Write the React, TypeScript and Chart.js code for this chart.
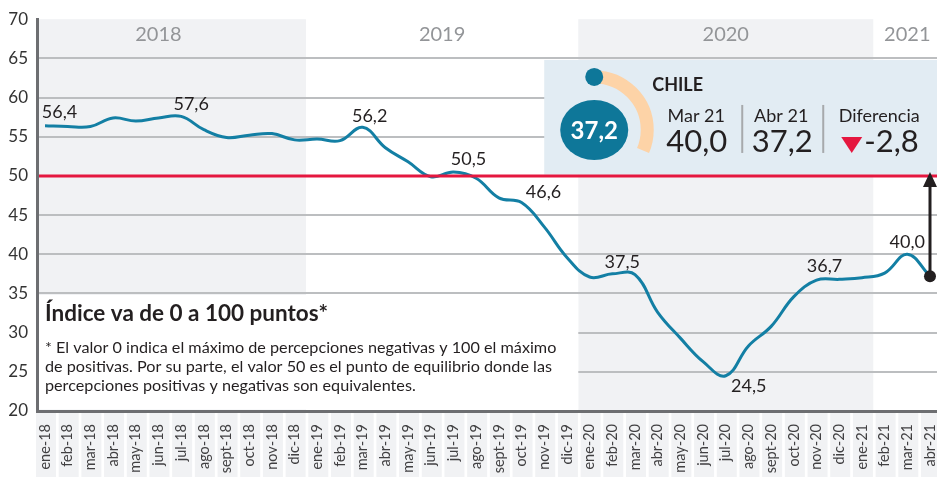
import React, { useEffect, useRef } from 'react';
import { Chart, registerables } from 'chart.js';
Chart.register(...registerables);

const months = [
  'ene-18','feb-18','mar-18','abr-18','may-18','jun-18','jul-18','ago-18','sept-18','oct-18','nov-18','dic-18',
  'ene-19','feb-19','mar-19','abr-19','may-19','jun-19','jul-19','ago-19','sept-19','oct-19','nov-19','dic-19',
  'ene-20','feb-20','mar-20','abr-20','may-20','jun-20','jul-20','ago-20','sept-20','oct-20','nov-20','dic-20',
  'ene-21','feb-21','mar-21','abr-21'
];
const values = [
  56.4, 56.3, 56.3, 57.4, 57.0, 57.4, 57.6, 55.9, 54.9, 55.2, 55.4, 54.6,
  54.7, 54.5, 56.2, 53.6, 51.8, 49.9, 50.5, 49.7, 47.2, 46.6, 43.5, 39.6,
  37.1, 37.5, 37.4, 32.6, 29.3, 26.3, 24.5, 28.3, 30.8, 34.6, 36.7, 36.8,
  37.0, 37.6, 40.0, 37.2
];
const yTicks = [20, 25, 30, 35, 40, 45, 50, 55, 60, 65, 70];
const years = ['2018', '2019', '2020', '2021'];
const yearCenters = [5, 17.5, 30, 38];
const grayBands = [[-1, 11.5], [23.5, 36.5]];
const labeledIdx = [0, 6, 14, 18, 21, 25, 30, 34, 38];
const labelOffsets = [[14.5, -14], [10, -12], [7, -11], [15, -13], [22, -10], [10, -12], [23, 10], [8, -14], [0, -12]];
const referenceValue = 50;
const country = 'CHILE';
const prevLabel = 'Mar 21';
const currLabel = 'Abr 21';
const prevValue = 40.0;
const currValue = 37.2;
const diffLabel = 'Diferencia';
const noteTitle = 'Índice va de 0 a 100 puntos*';
const noteLines = [
  '* El valor 0 indica el máximo de percepciones negativas y 100 el máximo',
  'de positivas. Por su parte, el valor 50 es el punto de equilibrio donde las',
  'percepciones positivas y negativas son equivalentes.'
];

const fmt = (v: number) => v.toFixed(1).replace('.', ',');
const FONT = 'Lato';
const TEAL = '#137fa4';
const DARK = '#231f20';
const RED = '#e5173f';

const decor = {
  id: 'decor',
  beforeDraw(chart: any) {
    const { ctx, chartArea } = chart;
    const xs = chart.scales.x;
    const { left, right, top, bottom } = chartArea;
    ctx.save();
    ctx.fillStyle = '#f1f2f4';
    grayBands.forEach(([a, b]) => {
      const x0 = Math.max(left, xs.getPixelForValue(a));
      const x1 = Math.min(right, xs.getPixelForValue(b));
      ctx.fillRect(x0, top, x1 - x0, bottom - top);
    });
    months.forEach((_, i) => {
      const px = xs.getPixelForValue(i) + 1;
      ctx.fillRect(px - 10, bottom + 2, 20, chart.height - bottom - 3);
    });
    ctx.restore();
  },
  beforeDatasetsDraw(chart: any) {
    const { ctx, chartArea } = chart;
    const xs = chart.scales.x;
    const ys = chart.scales.y;
    const { left, right, bottom } = chartArea;
    ctx.save();
    ctx.fillStyle = '#ffffff';
    const ny0 = ys.getPixelForValue(35) + 1.5;
    const nx1 = xs.getPixelForValue(23.5);
    ctx.fillRect(left + 2, ny0, nx1 - left - 2, bottom - 1.5 - ny0);
    ctx.fillStyle = '#e2ecf3';
    const bx = xs.getPixelForValue(22);
    const by0 = ys.getPixelForValue(64.8);
    const by1 = ys.getPixelForValue(50.15);
    ctx.fillRect(bx, by0, right - bx, by1 - by0);
    ctx.restore();
  },
  afterDatasetsDraw(chart: any) {
    const { ctx, chartArea } = chart;
    const xs = chart.scales.x;
    const ys = chart.scales.y;
    const { left, right } = chartArea;
    ctx.save();
    const ry = ys.getPixelForValue(referenceValue);
    ctx.strokeStyle = RED;
    ctx.lineWidth = 3;
    ctx.beginPath();
    ctx.moveTo(left + 2, ry);
    ctx.lineTo(right, ry);
    ctx.stroke();

    const last = values.length - 1;
    const ax = xs.getPixelForValue(last);
    const ay = ys.getPixelForValue(values[last]);
    ctx.strokeStyle = DARK;
    ctx.fillStyle = DARK;
    ctx.lineWidth = 3;
    ctx.beginPath();
    ctx.moveTo(ax, ay);
    ctx.lineTo(ax, ry + 10);
    ctx.stroke();
    ctx.beginPath();
    ctx.moveTo(ax, ry - 4);
    ctx.lineTo(ax - 7, ry + 11);
    ctx.lineTo(ax + 7, ry + 11);
    ctx.closePath();
    ctx.fill();
    ctx.beginPath();
    ctx.arc(ax, ay, 6, 0, Math.PI * 2);
    ctx.fill();

    ctx.fillStyle = DARK;
    ctx.font = `18px ${FONT}`;
    ctx.textAlign = 'center';
    ctx.textBaseline = 'middle';
    labeledIdx.forEach((idx, k) => {
      const px = xs.getPixelForValue(idx) + labelOffsets[k][0];
      const py = ys.getPixelForValue(values[idx]) + labelOffsets[k][1];
      ctx.fillText(fmt(values[idx]), px, py);
    });

    ctx.fillStyle = '#939598';
    ctx.font = `20px ${FONT}`;
    years.forEach((y, i) => {
      ctx.fillText(y, xs.getPixelForValue(yearCenters[i]), 35);
    });

    const bx = xs.getPixelForValue(22);
    const by = ys.getPixelForValue(64.8);
    const cx = bx + 50;
    const cy = by + 70;
    ctx.strokeStyle = '#fdd3a7';
    ctx.lineWidth = 13;
    ctx.beginPath();
    ctx.arc(cx, cy, 53, -Math.PI / 2, 0.4);
    ctx.stroke();
    ctx.fillStyle = '#0e7799';
    ctx.beginPath();
    ctx.ellipse(cx, cy, 34, 30, 0, 0, Math.PI * 2);
    ctx.fill();
    ctx.beginPath();
    ctx.arc(cx, cy - 53, 9, 0, Math.PI * 2);
    ctx.fill();
    ctx.fillStyle = '#ffffff';
    ctx.font = `bold 24px ${FONT}`;
    ctx.fillText(fmt(currValue), cx, cy + 1);

    ctx.fillStyle = DARK;
    ctx.textAlign = 'left';
    ctx.font = `bold 18px ${FONT}`;
    ctx.fillText(country, bx + 108, by + 25);

    ctx.textAlign = 'center';
    ctx.font = `18px ${FONT}`;
    ctx.fillText(prevLabel, bx + 152, by + 56);
    ctx.fillText(currLabel, bx + 237, by + 56);
    ctx.fillText(diffLabel, bx + 335, by + 56);
    ctx.font = `31px ${FONT}`;
    ctx.fillText(fmt(prevValue), bx + 152.5, by + 82);
    ctx.fillText(fmt(currValue), bx + 238, by + 82);
    ctx.textAlign = 'left';
    ctx.fillText(fmt(currValue - prevValue), bx + 320, by + 82);

    ctx.strokeStyle = '#a7a9ac';
    ctx.lineWidth = 2;
    [198, 279].forEach((dx) => {
      ctx.beginPath();
      ctx.moveTo(bx + dx, by + 45);
      ctx.lineTo(bx + dx, by + 93);
      ctx.stroke();
    });
    ctx.fillStyle = RED;
    ctx.beginPath();
    ctx.moveTo(bx + 297, by + 77);
    ctx.lineTo(bx + 318, by + 77);
    ctx.lineTo(bx + 307.5, by + 93);
    ctx.closePath();
    ctx.fill();

    ctx.fillStyle = DARK;
    ctx.textAlign = 'left';
    ctx.font = `bold 22.5px ${FONT}`;
    ctx.fillText(noteTitle, left + 8, 314);
    ctx.font = `16.2px ${FONT}`;
    noteLines.forEach((l, i) => ctx.fillText(l, left + 8, 348 + i * 19));
    ctx.restore();
  }
};

export default function App() {
  const ref = useRef<HTMLCanvasElement | null>(null);
  useEffect(() => {
    document.body.style.margin = '0';
    const canvas = ref.current;
    if (!canvas) return;
    const chart = new Chart(canvas, {
      type: 'line',
      data: {
        datasets: [{
          data: values.map((v, i) => ({ x: i, y: v })),
          borderColor: TEAL,
          borderWidth: 3,
          pointRadius: 0,
          tension: 0.4,
          fill: false
        }]
      },
      options: {
        animation: false,
        responsive: false,
        events: [],
        layout: { padding: { top: 13, left: 0, right: 0, bottom: 0 } },
        plugins: { legend: { display: false }, tooltip: { enabled: false } },
        scales: {
          x: {
            type: 'linear',
            min: -0.3525,
            max: 39.3085,
            grid: { display: false },
            border: { color: '#6d6e71', width: 3 },
            afterBuildTicks: (s: any) => { s.ticks = months.map((_, i) => ({ value: i })); },
            ticks: {
              autoSkip: false,
              maxRotation: 90,
              minRotation: 90,
              padding: 5,
              font: { family: FONT, size: 14.5 },
              color: '#414042',
              callback: (v: any) => months[Math.round(v)]
            },
            afterFit: (s: any) => { s.height = 67; s.paddingLeft = 0; s.paddingRight = 0; }
          },
          y: {
            min: 20,
            max: 70,
            afterBuildTicks: (s: any) => { s.ticks = yTicks.map((v) => ({ value: v })); },
            grid: {
              color: (c: any) => (c.tick && (c.tick.value === 70 || c.tick.value === 20)) ? 'rgba(0,0,0,0)' : '#bcbec0',
              lineWidth: 2,
              drawTicks: false
            },
            border: { color: '#6d6e71', width: 3 },
            ticks: { padding: 9, font: { family: FONT, size: 17 }, color: '#333333' },
            afterFit: (s: any) => { s.width = 37; }
          }
        }
      },
      plugins: [decor]
    } as any);
    return () => chart.destroy();
  }, []);
  return <canvas ref={ref} width={937} height={478} style={{ display: 'block', width: 937, height: 478 }} />;
}
